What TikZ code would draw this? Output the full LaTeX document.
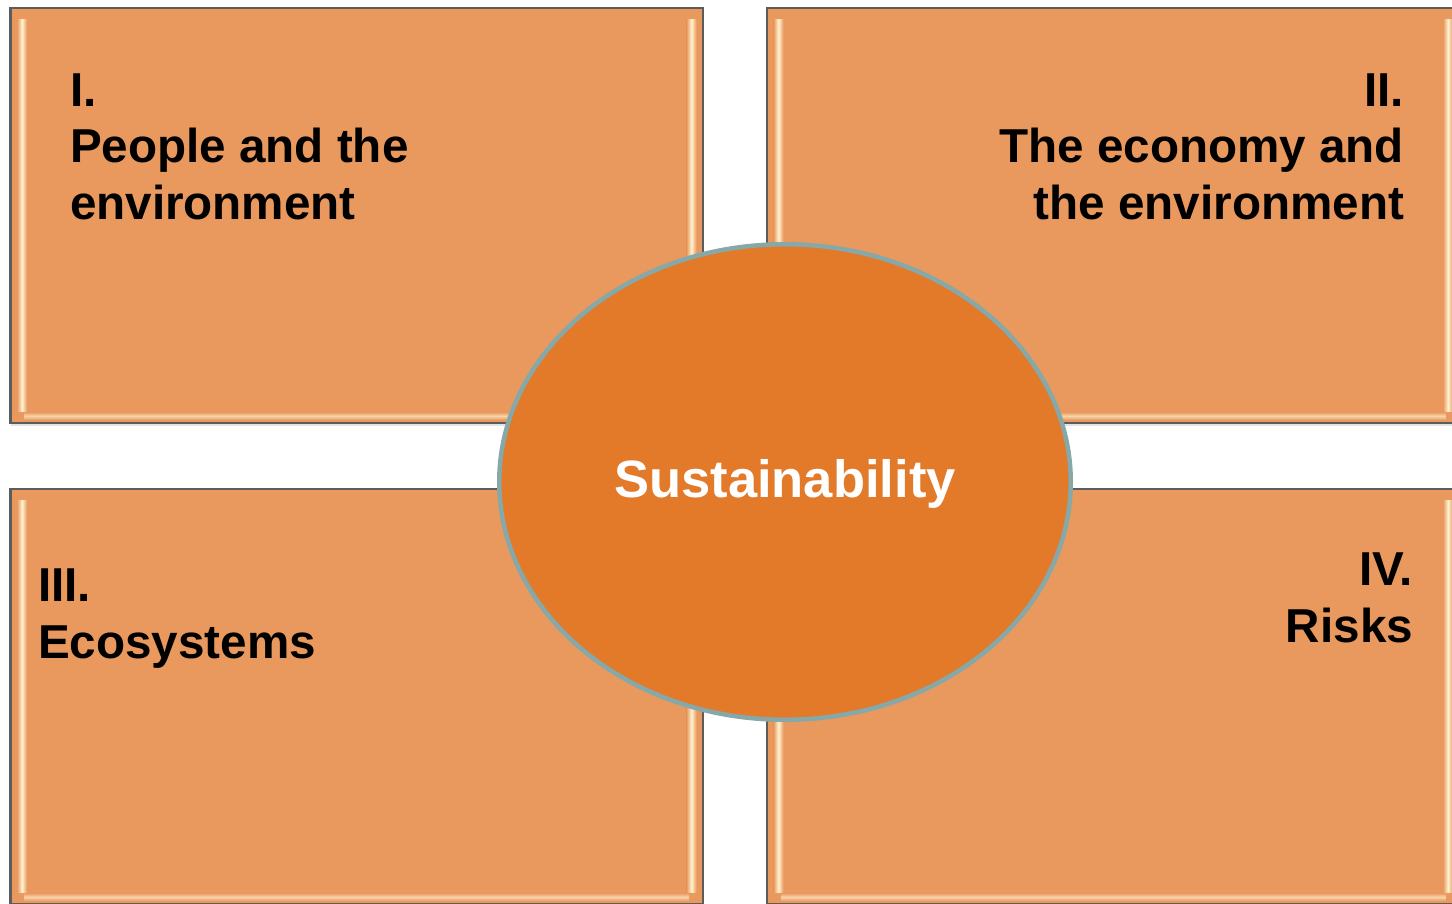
\documentclass[tikz,border=0pt]{standalone}
\usepackage{fontspec}
\setmainfont{Liberation Sans}
\usetikzlibrary{shapes.geometric,shadows}
\definecolor{boxfill}{HTML}{E9995E}
\definecolor{boxline}{HTML}{5C5C5C}
\definecolor{hl}{HTML}{FFF3D2}
\definecolor{ellfill}{HTML}{E27A2A}
\definecolor{ellline}{HTML}{86A8A8}
\tikzset{
  box/.style={rectangle, draw=boxline, line width=2.5pt, fill=boxfill,
    inner sep=0pt, outer sep=0pt, minimum width=692.5pt, minimum height=415pt,
    anchor=north west,
    drop shadow={shadow xshift=0pt, shadow yshift=-2.5pt, opacity=0.22}},
  vbevel/.style={left color=boxfill, right color=boxfill, middle color=hl},
  hbevel/.style={top color=boxfill, bottom color=boxfill, middle color=hl!65!boxfill},
  boxtext/.style={inner sep=0pt, outer sep=0pt, text=black,
    font={\fontsize{47.6}{56.7}\selectfont\bfseries}},
  hub/.style={ellipse, draw=ellline, line width=4.5pt, fill=ellfill,
    minimum width=571.5pt, minimum height=475.5pt, inner sep=0pt,
    text=white, text depth=8pt, font={\fontsize{52.5}{60}\selectfont\bfseries}}
}
\begin{document}
\begin{tikzpicture}[x=1pt,y=-1pt]
\useasboundingbox (0,0) rectangle (1452,903);
\clip (0,0) rectangle (1452,903);
\node[box] (tl) at (10.5,8) {};
\node[box] (tr) at (767,8) {};
\node[box] (bl) at (10.5,489) {};
\node[box] (br) at (767,489) {};
\foreach \b in {tl,tr,bl,br}{
  \shade[vbevel]
    ([xshift=6.5pt,yshift=12pt]\b.south west) rectangle
    ([xshift=16.5pt,yshift=-11pt]\b.north west);
  \shade[vbevel]
    ([xshift=-16.5pt,yshift=12pt]\b.south east) rectangle
    ([xshift=-6.5pt,yshift=-11pt]\b.north east);
  \shade[hbevel]
    ([xshift=14pt,yshift=3pt]\b.south west) rectangle
    ([xshift=-14pt,yshift=11pt]\b.south east);
}
\node[boxtext, anchor=north west, align=left] (tltext) at (70,73.3)
  {I.\\People and the\\environment};
\node[boxtext, anchor=north east, align=right] (trtext) at (1404,73.3)
  {II.\\The economy and\\the environment};
\node[boxtext, anchor=north west, align=left] (bltext) at (38,569)
  {III.\\Ecosystems};
\node[boxtext, anchor=north east, align=right] (brtext) at (1413,553)
  {IV.\\Risks};
\node[hub] (sus) at (785,482) {Sustainability};
\end{tikzpicture}
\end{document}
